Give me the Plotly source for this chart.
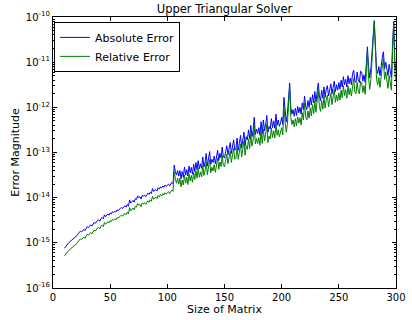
import plotly.graph_objects as go

matrix_size = list(range(10, 301))

# log10 of the errors
abs_err_log10 = [
    -15.12,-15.08,-15.04,-15.01,-14.99,-14.97,-14.95,-14.93,-14.90,-14.88,
    -14.86,-14.84,-14.80,-14.78,-14.74,-14.76,-14.72,-14.70,-14.73,-14.68,
    -14.64,-14.66,-14.62,-14.60,-14.63,-14.58,-14.55,-14.57,-14.52,-14.50,
    -14.49,-14.52,-14.46,-14.44,-14.47,-14.38,-14.42,-14.40,-14.36,-14.39,
    -14.34,-14.36,-14.31,-14.33,-14.30,-14.32,-14.27,-14.29,-14.25,-14.23,
    -14.22,-14.24,-14.20,-14.18,-14.21,-14.15,-14.19,-14.05,-14.12,-14.08,
    -14.06,-14.10,-14.02,-14.04,-13.96,-14.00,-13.98,-14.03,-13.95,-13.97,
    -13.94,-13.98,-13.92,-13.90,-13.93,-13.88,-13.91,-13.80,-13.86,-13.84,
    -13.82,-13.85,-13.78,-13.81,-13.76,-13.79,-13.74,-13.77,-13.72,-13.75,
    -13.72,-13.70,-13.74,-13.68,-13.66,-13.69,-13.28,-13.42,-13.50,-13.40,
    -13.52,-13.40,-13.58,-13.42,-13.55,-13.32,-13.50,-13.38,-13.52,-13.30,
    -13.45,-13.33,-13.48,-13.26,-13.42,-13.22,-13.38,-13.18,-13.36,-13.25,
    -13.35,-13.10,-13.32,-13.22,-13.02,-13.30,-13.18,-12.98,-13.26,-13.15,
    -13.22,-13.08,-13.25,-13.05,-12.95,-13.18,-13.02,-13.12,-12.88,-13.10,
    -13.12,-12.98,-12.85,-13.05,-12.92,-12.78,-13.02,-12.88,-12.72,-12.95,
    -12.92,-12.68,-12.95,-12.80,-12.62,-12.90,-12.72,-12.55,-12.85,-12.65,
    -12.72,-12.50,-12.70,-12.40,-12.65,-12.52,-12.22,-12.60,-12.48,-12.58,
    -12.45,-12.62,-12.32,-12.58,-12.28,-12.52,-12.38,-12.18,-12.55,-12.42,
    -12.48,-12.25,-12.45,-12.30,-12.46,-12.15,-12.40,-12.28,-12.42,-12.35,
    -12.22,-12.38,-11.78,-12.10,-12.32,-12.15,-11.85,-11.46,-12.00,-12.15,
    -12.05,-12.20,-12.02,-12.18,-11.98,-12.12,-12.00,-12.15,-11.90,-12.05,
    -11.75,-11.98,-12.05,-11.85,-12.00,-11.78,-11.95,-11.72,-11.90,-11.65,
    -11.88,-11.62,-11.46,-11.75,-11.85,-11.62,-11.80,-11.55,-11.78,-11.60,
    -11.52,-11.75,-11.58,-11.48,-11.70,-11.55,-11.42,-11.65,-11.50,-11.62,
    -11.45,-11.60,-11.40,-11.55,-11.32,-11.50,-11.38,-11.55,-11.30,-11.48,
    -11.35,-11.50,-11.25,-11.18,-11.42,-11.45,-11.22,-11.40,-11.45,-11.20,
    -11.22,-11.42,-11.28,-11.45,-11.05,-10.66,-11.10,-11.35,-11.15,-10.85,
    -10.40,-10.08,-10.60,-11.15,-11.25,-11.10,-11.30,-11.05,-10.90,-10.77,
    -11.15,-11.00,-11.20,-11.30,-11.05,-11.25,-11.35,-10.60,-10.10,-11.00,
    -11.20,
]

rel_err_log10 = [
    -15.29,-15.25,-15.21,-15.18,-15.16,-15.14,-15.12,-15.10,-15.07,-15.05,
    -15.03,-15.01,-14.97,-14.95,-14.91,-14.93,-14.89,-14.87,-14.90,-14.85,
    -14.81,-14.83,-14.79,-14.77,-14.80,-14.75,-14.72,-14.74,-14.69,-14.67,
    -14.66,-14.69,-14.63,-14.61,-14.64,-14.55,-14.59,-14.57,-14.53,-14.56,
    -14.51,-14.53,-14.48,-14.50,-14.47,-14.49,-14.44,-14.46,-14.42,-14.40,
    -14.39,-14.41,-14.37,-14.35,-14.38,-14.32,-14.36,-14.22,-14.29,-14.25,
    -14.23,-14.27,-14.19,-14.21,-14.13,-14.17,-14.15,-14.20,-14.12,-14.14,
    -14.11,-14.15,-14.09,-14.07,-14.10,-14.05,-14.08,-13.97,-14.03,-14.01,
    -13.99,-14.02,-13.95,-13.98,-13.93,-13.96,-13.91,-13.94,-13.89,-13.92,
    -13.89,-13.87,-13.91,-13.85,-13.83,-13.86,-13.42,-13.58,-13.68,-13.57,
    -13.70,-13.57,-13.76,-13.61,-13.72,-13.50,-13.68,-13.55,-13.71,-13.48,
    -13.63,-13.51,-13.66,-13.44,-13.60,-13.40,-13.57,-13.35,-13.55,-13.43,
    -13.54,-13.28,-13.51,-13.41,-13.20,-13.49,-13.36,-13.16,-13.45,-13.33,
    -13.41,-13.27,-13.44,-13.24,-13.13,-13.37,-13.21,-13.31,-13.06,-13.29,
    -13.32,-13.17,-13.04,-13.25,-13.12,-12.97,-13.22,-13.08,-12.91,-13.15,
    -13.12,-12.87,-13.15,-13.00,-12.81,-13.10,-12.92,-12.74,-13.06,-12.85,
    -12.93,-12.70,-12.91,-12.58,-12.86,-12.73,-12.40,-12.81,-12.69,-12.80,
    -12.67,-12.84,-12.53,-12.80,-12.48,-12.74,-12.60,-12.37,-12.78,-12.64,
    -12.70,-12.46,-12.67,-12.52,-12.68,-12.35,-12.62,-12.50,-12.65,-12.57,
    -12.45,-12.61,-11.96,-12.32,-12.55,-12.38,-12.04,-11.54,-12.22,-12.38,
    -12.28,-12.43,-12.25,-12.41,-12.21,-12.35,-12.23,-12.39,-12.12,-12.28,
    -11.90,-12.21,-12.28,-12.08,-12.24,-12.01,-12.19,-11.94,-12.14,-11.86,
    -12.11,-11.83,-11.60,-11.98,-12.09,-11.85,-12.04,-11.76,-12.02,-11.83,
    -11.73,-11.99,-11.81,-11.69,-11.94,-11.78,-11.60,-11.89,-11.73,-11.86,
    -11.68,-11.84,-11.62,-11.79,-11.52,-11.74,-11.61,-11.80,-11.52,-11.72,
    -11.58,-11.75,-11.48,-11.36,-11.66,-11.70,-11.45,-11.64,-11.70,-11.43,
    -11.45,-11.67,-11.52,-11.71,-11.25,-10.78,-11.33,-11.60,-11.39,-11.03,
    -10.52,-10.12,-10.75,-11.38,-11.50,-11.34,-11.56,-11.28,-11.10,-10.92,
    -11.38,-11.22,-11.45,-11.58,-11.30,-11.50,-11.62,-10.75,-10.14,-11.22,
    -11.40,
]

y_tick_exponents = [-16, -15, -14, -13, -12, -11, -10]
x_tick_values = [0, 50, 100, 150, 200, 250, 300]

abs_err = [10 ** v for v in abs_err_log10]
rel_err = [10 ** v for v in rel_err_log10]

FONT = "DejaVu Sans"

fig = go.Figure()
fig.add_trace(go.Scatter(x=matrix_size, y=abs_err, mode="lines", name="Absolute Error",
                         line=dict(color="#0000ff", width=1)))
fig.add_trace(go.Scatter(x=matrix_size, y=rel_err, mode="lines", name="Relative Error",
                         line=dict(color="#008000", width=1)))

axis_common = dict(
    showline=True, linecolor="black", linewidth=1, mirror="ticks",
    ticks="inside", ticklen=4, tickcolor="black", showgrid=False, zeroline=False,
    tickfont=dict(family=FONT, size=10, color="black"),
    ticklabeloverflow="allow",
)

fig.update_layout(
    width=412, height=320,
    margin=dict(l=53, r=6, t=17, b=32),
    paper_bgcolor="white", plot_bgcolor="white",
    font=dict(family=FONT, color="black"),
    title=dict(text="Upper Triangular Solver", x=0.5, xref="paper", xanchor="center",
               y=1 - 9 / 320, yref="container", yanchor="middle",
               font=dict(family=FONT, size=11.5, color="black")),
    legend=dict(x=0.003, y=0.982, xanchor="left", yanchor="top",
                bordercolor="black", borderwidth=1, bgcolor="white",
                font=dict(family=FONT, size=11, color="black"),
                itemwidth=30, tracegroupgap=0),
    showlegend=True,
)

fig.update_xaxes(range=[0, 300], tickvals=x_tick_values,
                 ticktext=[str(v) for v in x_tick_values],
                 title=dict(text="Size of Matrix", font=dict(family=FONT, size=11), standoff=3),
                 **axis_common)
fig.update_yaxes(type="log", range=[-16, -10],
                 tickvals=[10.0 ** e for e in y_tick_exponents],
                 ticktext=[f"10<sup>{e}</sup>" for e in y_tick_exponents],
                 minor=dict(ticks="inside", ticklen=2, tickcolor="black", dtick="D1"),
                 title=dict(text="Error Magnitude", font=dict(family=FONT, size=11), standoff=3),
                 **axis_common)

fig.write_html("out.html")
